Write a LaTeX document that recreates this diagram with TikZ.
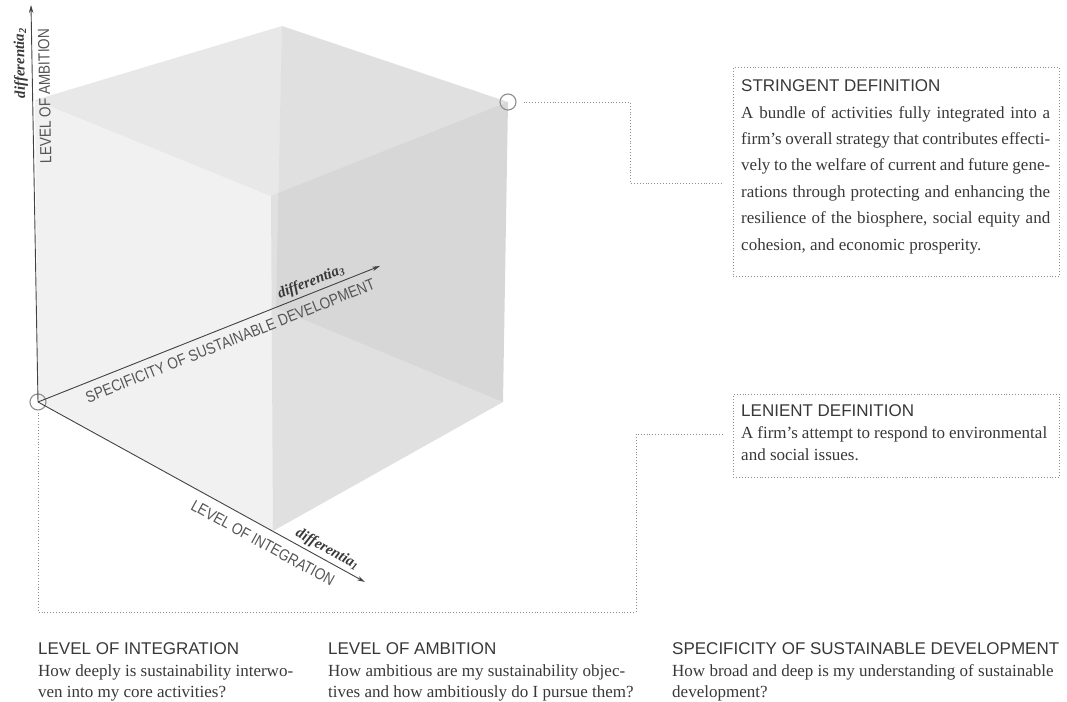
\documentclass[tikz,border=0pt]{standalone}
\usepackage{fontspec}
\setmainfont{Liberation Serif}
\setsansfont{Liberation Sans}
\newfontfamily\axisfont{Liberation Sans}[FakeStretch=0.85]
\usetikzlibrary{arrows.meta}
\definecolor{ink}{HTML}{383838}
\definecolor{axisgray}{HTML}{424242}
\definecolor{labelgray}{HTML}{555555}
\definecolor{dotgray}{HTML}{8E8E8E}
\tikzset{
  axis/.style={draw=axisgray, line width=0.9pt, -{Stealth[length=8pt,width=4.5pt]}},
  face/.style={fill=black, fill opacity=#1},
  ring/.style={circle, draw=dotgray, line width=1.1pt, minimum size=16pt, inner sep=0pt},
  leader/.style={draw=dotgray, line width=0.9pt, dash pattern=on 0.9pt off 2pt},
  axlabel/.style={font=\axisfont\fontsize{16}{16}\selectfont, text=labelgray, inner sep=3pt},
  diff/.style={font=\bfseries\itshape\fontsize{15}{15}\selectfont, text=ink, inner sep=2pt},
  head/.style={font=\sffamily\fontsize{17}{17}\selectfont, text=ink, inner sep=0pt, anchor=base west},
  body/.style={font=\fontsize{17}{17}\selectfont, text=ink, inner sep=0pt, anchor=base west}
}
\begin{document}
\begin{tikzpicture}[x=1pt,y=-1pt]
  \useasboundingbox (0,0) rectangle (1067,701);

  \coordinate (p1) at (38,402);
  \coordinate (p2) at (273,531);
  \coordinate (p3) at (503,402);
  \coordinate (p4) at (276,308);
  \coordinate (q1) at (35,100);
  \coordinate (q2) at (271,196);
  \coordinate (q3) at (508,102);
  \coordinate (q4) at (282,26);

  \fill[face=0.02] (q1) -- (q4) -- (p4) -- (p1) -- cycle;
  \fill[face=0.055] (q4) -- (q3) -- (p3) -- (p4) -- cycle;
  \fill[face=0.02] (p1) -- (p2) -- (p3) -- (p4) -- cycle;
  \fill[face=0.07] (q1) -- (q4) -- (q3) -- (q2) -- cycle;
  \fill[face=0.035] (q1) -- (q2) -- (p2) -- (p1) -- cycle;
  \fill[face=0.105] (q2) -- (q3) -- (p3) -- (p2) -- cycle;

  \node[ring] (origin) at (p1) {};
  \node[ring] (corner) at (q3) {};

  \coordinate (ambtip) at (31,5);
  \coordinate (spectip) at (380,266);
  \coordinate (inttip) at (365,582);

  \draw[axis] (origin.center) -- node[pos=0.77, sloped, allow upside down, below=3pt, axlabel] (amblabel) {LEVEL OF AMBITION}
    node[pos=0.854, sloped, allow upside down, above=2pt, diff] (diff2) {differentia\textsubscript{2}} (ambtip);
  \draw[axis] (origin.center) -- node[pos=0.547, sloped, below=5pt, axlabel] (speclabel) {SPECIFICITY OF SUSTAINABLE DEVELOPMENT}
    node[pos=0.81, sloped, above=1pt, diff] (diff3) {differentia\textsubscript{3}} (spectip);
  \draw[axis] (origin.center) -- node[pos=0.71, sloped, below=6pt, axlabel] (intlabel) {LEVEL OF INTEGRATION}
    node[pos=0.87, sloped, above=1pt, diff] (diff1) {differentia\textsubscript{1}} (inttip);

  \node[leader, draw, anchor=north west, minimum width=326pt, minimum height=209pt, inner sep=0pt] (stringent) at (733,67) {};
  \node[leader, draw, anchor=north west, minimum width=326pt, minimum height=83pt, inner sep=0pt] (lenient) at (733,394) {};

  \coordinate (s1) at (630,183);
  \coordinate (s2) at (721,183);
  \coordinate (l1) at (636,612);
  \coordinate (l2) at (722,434);
  \draw[leader, shorten <=7pt] (corner.east) -| (s1) -- (s2);
  \draw[leader, shorten <=2pt] (origin.south) |- (l1) |- (l2);

  \node[head] (strtitle) at (741,91) {STRINGENT DEFINITION};
  \node[body] (str1) at (741,118) {\makebox[309pt][s]{A bundle of activities fully integrated into a}};
  \node[body] (str2) at (741,144.4) {\makebox[309pt][s]{firm’s overall strategy that contributes effecti-}};
  \node[body] (str3) at (741,170.8) {\makebox[309pt][s]{vely to the welfare of current and future gene-}};
  \node[body] (str4) at (741,197.2) {\makebox[309pt][s]{rations through protecting and enhancing the}};
  \node[body] (str5) at (741,223.6) {\makebox[309pt][s]{resilience of the biosphere, social equity and}};
  \node[body] (str6) at (741,250) {cohesion, and economic prosperity.};

  \node[head] (lentitle) at (741,416) {LENIENT DEFINITION};
  \node[body] (len1) at (741,438) {\makebox[306pt][s]{A firm’s attempt to respond to environmental}};
  \node[body] (len2) at (741,460) {and social issues.};

  \node[head] (inthead) at (38,654) {LEVEL OF INTEGRATION};
  \node[body] (intq1) at (38,676) {How deeply is sustainability interwo-};
  \node[body] (intq2) at (38,697) {ven into my core activities?};
  \node[head] (ambhead) at (328,654) {LEVEL OF AMBITION};
  \node[body] (ambq1) at (328,676) {How ambitious are my sustainability objec-};
  \node[body] (ambq2) at (328,697) {tives and how ambitiously do I pursue them?};
  \node[head] (spechead) at (672,654) {SPECIFICITY OF SUSTAINABLE DEVELOPMENT};
  \node[body] (specq1) at (672,676) {How broad and deep is my understanding of sustainable};
  \node[body] (specq2) at (672,697) {development?};
\end{tikzpicture}
\end{document}
